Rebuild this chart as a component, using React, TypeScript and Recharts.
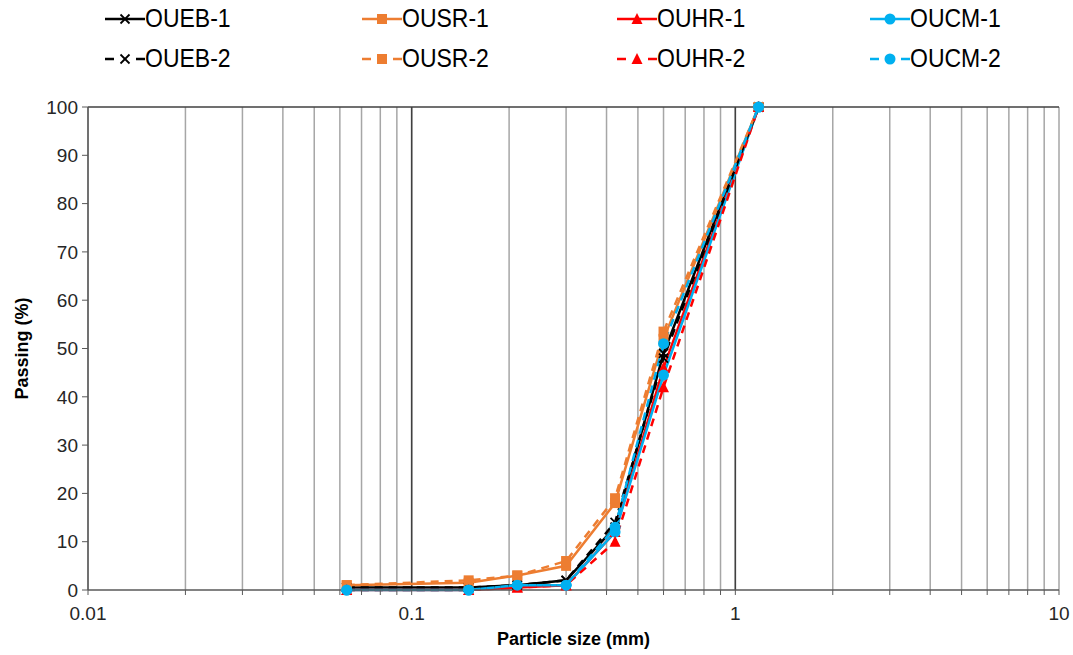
import React from "react"
import { LineChart, Line, XAxis, YAxis, CartesianGrid, ReferenceLine } from "recharts"

const sizes = [0.063, 0.15, 0.212, 0.3, 0.425, 0.6, 1.18]

const oueb1 = [0.5, 0.5, 1, 2, 13, 49, 100]
const oueb2 = [0.5, 0.5, 1, 2, 14, 48, 100]
const ousr1 = [1, 1.5, 3, 5, 18, 52, 100]
const ousr2 = [1, 2, 3, 6, 19, 53.5, 100]
const ouhr1 = [0, 0, 0.5, 1, 12, 46, 100]
const ouhr2 = [0, 0, 0.5, 1, 10, 42, 100]
const oucm1 = [0, 0, 1, 1, 12, 44.5, 100]
const oucm2 = [0, 0, 1, 1, 13, 51, 100]

const xTicks = [
  0.01, 0.02, 0.03, 0.04, 0.05, 0.06, 0.07, 0.08, 0.09,
  0.1, 0.2, 0.3, 0.4, 0.5, 0.6, 0.7, 0.8, 0.9,
  1, 2, 3, 4, 5, 6, 7, 8, 9, 10,
]
const xLabels = [0.01, 0.1, 1, 10]
const yTicks = [0, 10, 20, 30, 40, 50, 60, 70, 80, 90, 100]

const toPoints = (vals: number[]) => sizes.map((x, i) => ({ x, y: vals[i] }))

type Marker = "cross" | "square" | "triangle" | "circle"

const series = [
  { name: "OUEB-1", vals: oueb1, color: "#000000", dash: false, marker: "cross" as Marker },
  { name: "OUSR-1", vals: ousr1, color: "#ED7D31", dash: false, marker: "square" as Marker },
  { name: "OUHR-1", vals: ouhr1, color: "#FF0000", dash: false, marker: "triangle" as Marker },
  { name: "OUCM-1", vals: oucm1, color: "#00B0F0", dash: false, marker: "circle" as Marker },
  { name: "OUEB-2", vals: oueb2, color: "#000000", dash: true, marker: "cross" as Marker },
  { name: "OUSR-2", vals: ousr2, color: "#ED7D31", dash: true, marker: "square" as Marker },
  { name: "OUHR-2", vals: ouhr2, color: "#FF0000", dash: true, marker: "triangle" as Marker },
  { name: "OUCM-2", vals: oucm2, color: "#00B0F0", dash: true, marker: "circle" as Marker },
]

function MarkerShape({ cx, cy, marker, color }: { cx: number; cy: number; marker: Marker; color: string }) {
  if (cx == null || cy == null) return null
  if (marker === "cross") {
    const s = 4.5
    return (
      <g stroke={color} strokeWidth={1.8}>
        <line x1={cx - s} y1={cy - s} x2={cx + s} y2={cy + s} />
        <line x1={cx - s} y1={cy + s} x2={cx + s} y2={cy - s} />
      </g>
    )
  }
  if (marker === "square") return <rect x={cx - 5} y={cy - 5} width={10} height={10} fill={color} />
  if (marker === "triangle")
    return <polygon points={`${cx},${cy - 6} ${cx - 5.5},${cy + 5} ${cx + 5.5},${cy + 5}`} fill={color} />
  return <circle cx={cx} cy={cy} r={5.5} fill={color} />
}

function LegendItem({ s }: { s: (typeof series)[number] }) {
  return (
    <div style={{ display: "flex", alignItems: "center" }}>
      <svg width={40} height={20}>
        <line x1={0} y1={10} x2={40} y2={10} stroke={s.color} strokeWidth={2.5} strokeDasharray={s.dash ? "9 22 9" : undefined} />
        <MarkerShape cx={20} cy={10} marker={s.marker} color={s.color} />
      </svg>
      <span style={{ display: "inline-block", transform: "scaleY(1.1)" }}>{s.name}</span>
    </div>
  )
}

export default function App() {
  const legendLeft = [105, 362, 617, 870]
  return (
    <div style={{ position: "absolute", left: 0, top: 0, width: 1073, height: 655, background: "#fff", fontFamily: "'Liberation Sans', Arial, sans-serif" }}>
      {series.map((s, i) => (
        <div
          key={s.name}
          style={{ position: "absolute", left: legendLeft[i % 4], top: i < 4 ? 5 : 45, fontSize: 23, color: "#000" }}
        >
          <LegendItem s={s} />
        </div>
      ))}
      <LineChart width={1073} height={655} margin={{ top: 107, right: 14, bottom: 25, left: 28 }}>
        <CartesianGrid horizontal={false} stroke="#A6A6A6" strokeWidth={1.5} />
        <XAxis
          dataKey="x"
          type="number"
          scale="log"
          domain={[0.01, 10]}
          ticks={xTicks}
          interval={0}
          allowDataOverflow
          tickFormatter={(v: number) => (xLabels.includes(v) ? String(v) : "")}
          tick={{ fontSize: 19, fill: "#262626" }}
          tickLine={{ stroke: "#595959" }}
          axisLine={{ stroke: "#595959", strokeWidth: 1.5 }}
          tickSize={5}
          tickMargin={12}
          height={40}
          label={{ value: "Particle size (mm)", position: "bottom", offset: 2, style: { fontSize: 18, fontWeight: "bold", fill: "#000" } }}
        />
        <YAxis
          type="number"
          domain={[0, 100]}
          ticks={yTicks}
          interval={0}
          width={60}
          tick={{ fontSize: 19, fill: "#262626" }}
          tickLine={{ stroke: "#595959" }}
          axisLine={{ stroke: "#595959", strokeWidth: 1.5 }}
          tickSize={6}
          tickMargin={4}
          label={{ value: "Passing (%)", angle: -90, position: "insideLeft", offset: -6, style: { fontSize: 18, fontWeight: "bold", fill: "#000", textAnchor: "middle" } }}
        />
        <ReferenceLine x={0.1} stroke="#404040" strokeWidth={1.5} />
        <ReferenceLine x={1} stroke="#404040" strokeWidth={1.5} />
        <ReferenceLine y={100} stroke="#404040" strokeWidth={1.5} />
        {series.map((s) => (
          <Line
            key={s.name}
            data={toPoints(s.vals)}
            dataKey="y"
            name={s.name}
            type="linear"
            stroke={s.color}
            strokeWidth={2.5}
            strokeDasharray={s.dash ? "8 6" : undefined}
            isAnimationActive={false}
            dot={(p: any) => <MarkerShape key={`${s.name}-${p.index}`} cx={p.cx} cy={p.cy} marker={s.marker} color={s.color} />}
          />
        ))}
      </LineChart>
    </div>
  )
}
